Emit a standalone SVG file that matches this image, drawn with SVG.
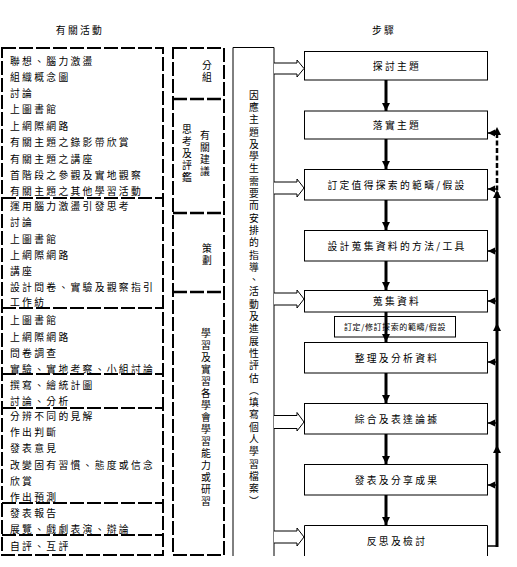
<svg xmlns="http://www.w3.org/2000/svg" width="517" height="567" viewBox="0 0 517 567">
<style>
text{font-family:"Noto Sans CJK TC","Noto Sans CJK SC",sans-serif;font-size:9.8px;fill:#000;letter-spacing:2.3px}
.c{text-anchor:middle}
.v{writing-mode:vertical-rl;letter-spacing:2.2px}
.dash{fill:none;stroke:#000;stroke-width:2;stroke-dasharray:14 3}
.dsep{fill:none;stroke:#000;stroke-width:2.5;stroke-dasharray:14 3}
.box{fill:#fff;stroke:#000;stroke-width:1}
.thin{fill:none;stroke:#000;stroke-width:1}
.flow{stroke:#000;stroke-width:3;fill:none;marker-end:url(#ah)}
.back{stroke:#000;stroke-width:1.5;fill:none;marker-end:url(#al)}
.block{fill:#fff;stroke:#000;stroke-width:1}
</style>
<defs>
<marker id="ah" markerUnits="userSpaceOnUse" markerWidth="9" markerHeight="8" refX="8" refY="4" orient="auto"><path d="M0,0 L8,4 L0,8 z" fill="#000"/></marker>
<marker id="al" markerUnits="userSpaceOnUse" markerWidth="8" markerHeight="8" refX="7" refY="4" orient="auto"><path d="M0,0.5 L7,4 L0,7.5 z" fill="#000"/></marker>
<path id="up" d="M-4,4 L0,-4 L4,4 z" fill="#000"/>
</defs>

<text class="c" x="80" y="34">有關活動</text>
<text class="c" x="384" y="34">步驟</text>

<g id="activities">
<rect class="dash" x="2" y="48" width="161" height="507"/>
<line class="dash" x1="2" y1="198" x2="163" y2="198"/>
<line class="dash" x1="2" y1="308" x2="163" y2="308"/>
<line class="dash" x1="2" y1="374" x2="163" y2="374"/>
<line class="dash" x1="2" y1="408" x2="163" y2="408"/>
<line class="dash" x1="2" y1="503" x2="163" y2="503"/>
<line class="dash" x1="2" y1="535" x2="163" y2="535"/>
<text x="10" y="65">聯想、腦力激盪</text>
<text x="10" y="81">組織概念圖</text>
<text x="10" y="96.5">討論</text>
<text x="10" y="112.5">上圖書館</text>
<text x="10" y="129.5">上網際網路</text>
<text x="10" y="146">有關主題之錄影帶欣賞</text>
<text x="10" y="162.5">有關主題之講座</text>
<text x="10" y="179">首階段之參觀及實地觀察</text>
<text x="10" y="195">有關主題之其他學習活動</text>
<text x="10" y="209.5">運用腦力激盪引發思考</text>
<text x="10" y="226">討論</text>
<text x="10" y="242.5">上圖書館</text>
<text x="10" y="258.5">上網際網路</text>
<text x="10" y="275">講座</text>
<text x="10" y="291">設計問卷、實驗及觀察指引</text>
<text x="10" y="306">工作紡</text>
<text x="10" y="323.5">上圖書館</text>
<text x="10" y="340.5">上網際網路</text>
<text x="10" y="357">問卷調查</text>
<text x="10" y="372.5">實驗、實地考察、小組討論</text>
<text x="10" y="389">撰寫、繪統計圖</text>
<text x="10" y="405">討論、分析</text>
<text x="10" y="419.5">分辨不同的見解</text>
<text x="10" y="435.5">作出判斷</text>
<text x="10" y="452">發表意見</text>
<text x="10" y="468.5">改變固有習慣、態度或信念</text>
<text x="10" y="484.5">欣賞</text>
<text x="10" y="501">作出預測</text>
<text x="10" y="516.5">發表報告</text>
<text x="10" y="532.5">展覽、戲劇表演、辯論</text>
<text x="10" y="549.5">自評、互評</text>
</g>

<g id="abilities">
<rect class="dash" x="173" y="48" width="51" height="507"/>
<line class="dsep" x1="173" y1="99" x2="224" y2="99"/>
<line class="dsep" x1="173" y1="213" x2="224" y2="213"/>
<line class="dsep" x1="173" y1="292" x2="224" y2="292"/>
<text class="v" x="207" y="60">分組</text>
<text class="v" x="205" y="130">有關建議</text>
<text class="v" x="187" y="124">思考及評鑑</text>
<text class="v" x="207" y="243">策劃</text>
<text class="v" x="206" y="328">學習及實習各學會學習能力或研習</text>
</g>

<g id="guidance">
<path class="thin" d="M233,556 V47.5 H274 V556"/>
<text class="v" x="254" y="90" style="letter-spacing:2.5px">因應主題及學生需要而安排的指導、活動及進展性評估（填寫個人學習檔案）</text>
</g>

<g id="step1"><rect class="box" x="304.5" y="51.5" width="183" height="28.5"/><text class="c" x="397" y="69.5">探討主題</text></g>
<g id="step2"><rect class="box" x="304.5" y="111" width="183" height="28"/><text class="c" x="397" y="128.5">落實主題</text></g>
<g id="step3"><rect class="box" x="304.5" y="169.5" width="183" height="30.5"/><text class="c" x="397" y="188.5">訂定值得探索的範疇/假設</text></g>
<g id="step4"><rect class="box" x="304.5" y="230.5" width="183" height="30.5"/><text class="c" x="397" y="249.5">設計蒐集資料的方法/工具</text></g>
<g id="step5"><rect class="box" x="304.5" y="290.5" width="183" height="21.5"/><text class="c" x="397" y="304.5">蒐集資料</text></g>
<g id="step6"><rect class="box" x="304.5" y="342.5" width="183" height="30.5"/><text class="c" x="397" y="361.5">整理及分析資料</text></g>
<g id="step7"><rect class="box" x="304.5" y="403.5" width="183" height="30.5"/><text class="c" x="397" y="422.5">綜合及表達論據</text></g>
<g id="step8"><rect class="box" x="304.5" y="464.5" width="183" height="30.5"/><text class="c" x="397" y="483.5">發表及分享成果</text></g>
<g id="step9"><path class="box" d="M304.5,556 V525.5 H487.5 V556"/><text class="c" x="397" y="544.5">反思及檢討</text></g>

<g id="connectors">
<path class="block" d="M274,63 H297 V60 L304,68.5 L297,77 V74 H274"/>
<path class="block" d="M274,182 H297 V179 L304,188 L297,197 V194 H274"/>
<path class="block" d="M274,293 H297 V290 L304,299 L297,308 V305 H274"/>
<path class="block" d="M274,415.5 H297 V412.5 L304,422 L297,431 V428.5 H274"/>
<path class="block" d="M274,531 H297 V528 L304,537 L297,546 V543 H274"/>

<line class="flow" x1="386" y1="80" x2="386" y2="111"/>
<line class="flow" x1="386" y1="139" x2="386" y2="169"/>
<line class="flow" x1="386" y1="200" x2="386" y2="230"/>
<line class="flow" x1="386" y1="261" x2="386" y2="290"/>
<line class="flow" x1="386" y1="312" x2="386" y2="342"/>
<line class="flow" x1="386" y1="373" x2="386" y2="403"/>
<line class="flow" x1="386" y1="434" x2="386" y2="464"/>
<line class="flow" x1="386" y1="495" x2="386" y2="525"/>

<line x1="497" y1="133" x2="497" y2="191" stroke="#000" stroke-width="2.5" stroke-dasharray="5 2.5"/>
<line x1="497" y1="192" x2="497" y2="547" stroke="#000" stroke-width="3"/>
<line x1="487.5" y1="546" x2="497" y2="546" stroke="#000" stroke-width="1.5"/>
<line class="back" x1="497" y1="133" x2="488" y2="133"/>
<line class="back" x1="497" y1="189" x2="488" y2="189"/>
<line class="back" x1="497" y1="251" x2="488" y2="251"/>
<line class="back" x1="497" y1="301" x2="488" y2="301"/>
<line class="back" x1="497" y1="362" x2="488" y2="362"/>
<line class="back" x1="497" y1="423" x2="488" y2="423"/>
<line class="back" x1="497" y1="485" x2="488" y2="485"/>
<use href="#up" x="497" y="131"/>
<use href="#up" x="497" y="194"/>
<use href="#up" x="497" y="327"/>
<use href="#up" x="497" y="449"/>
</g>

<g id="revise-note">
<rect class="box" x="334.5" y="316.5" width="121" height="20.5" style="fill:none"/>
<text class="c" x="395" y="330" style="font-size:8px;letter-spacing:0.6px">訂定/修訂探索的範疇/假設</text>
</g>
</svg>
